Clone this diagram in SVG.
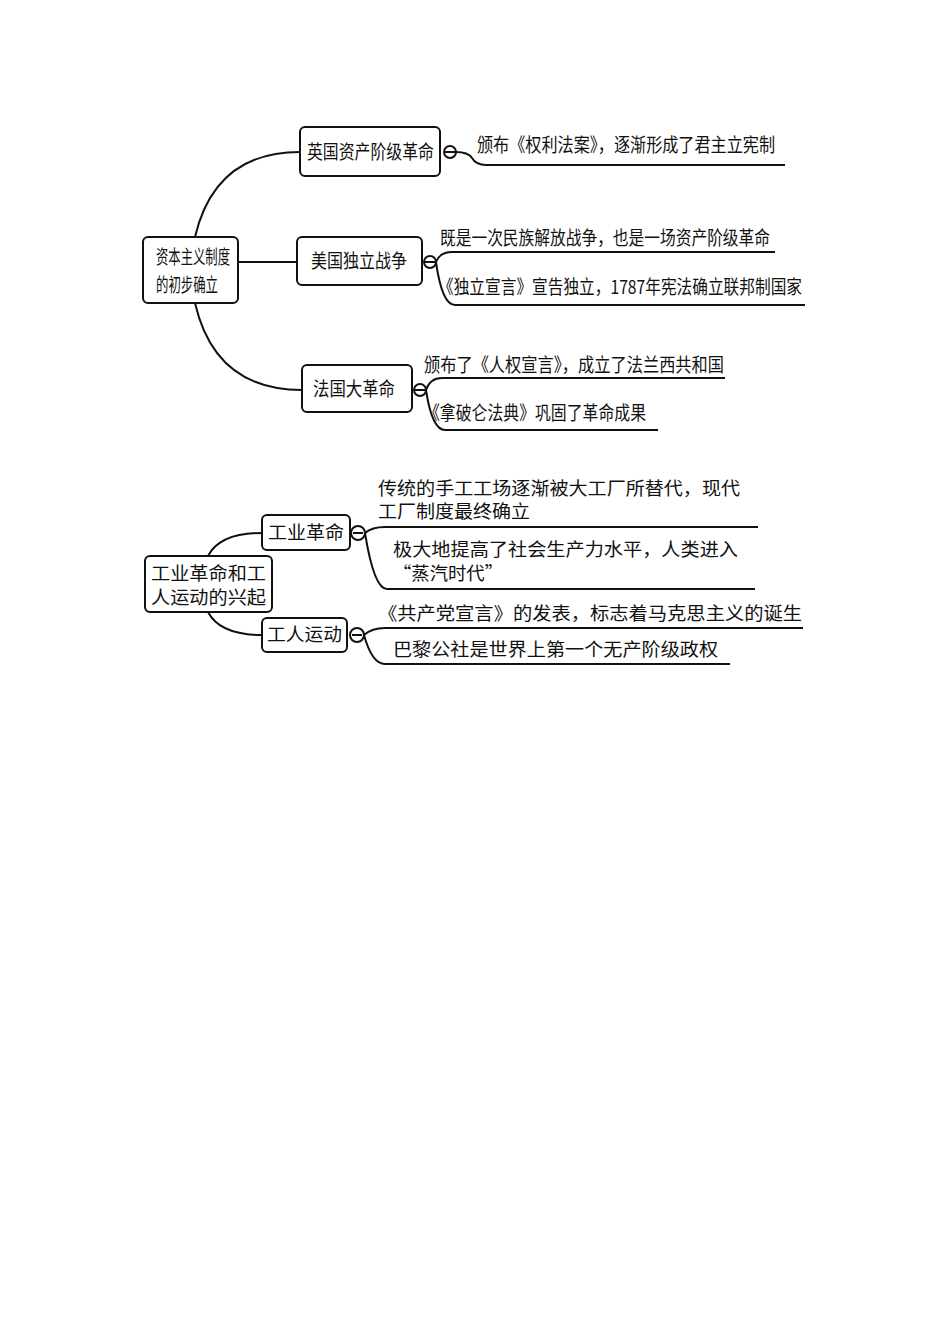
<svg xmlns="http://www.w3.org/2000/svg" width="950" height="1344" viewBox="0 0 950 1344">
<style>
text{font-family:"Noto Sans CJK SC","Noto Sans",sans-serif;fill:#111}
.a{font-size:19px}
.b{font-size:18px}
.box{fill:#fff;stroke:#111;stroke-width:2}
.c{fill:none;stroke:#111;stroke-width:2}
</style>
<rect width="950" height="1344" fill="#fff"/>
<g id="connectors">
<path class="c" d="M195 237 Q215 152 300 152"/>
<path class="c" d="M238 262 H297"/>
<path class="c" d="M195 303 Q215 390 302 390"/>
<path class="c" d="M456 152 Q468 152 472 158 Q476 165 486 165 H785"/>
<path class="c" d="M436 262 Q440 252 452 252 H775"/>
<path class="c" d="M436 262 Q442 305 455 305 H805"/>
<path class="c" d="M426 390 Q430 378 442 378 H725"/>
<path class="c" d="M426 390 Q432 430 445 430 H658"/>
<path class="c" d="M208 556 Q220 533 262 533"/>
<path class="c" d="M208 612 Q220 635 262 635"/>
<path class="c" d="M365 533 Q372 527 385 527 H758"/>
<path class="c" d="M365 533 Q374 589 387 589 H755"/>
<path class="c" d="M364 635 Q372 628 385 628 H803"/>
<path class="c" d="M364 635 Q372 664 385 664 H730"/>
<circle class="c" cx="450" cy="152" r="6"/><path class="c" d="M444 152H456"/>
<circle class="c" cx="430" cy="262" r="6"/><path class="c" d="M424 262H436"/>
<circle class="c" cx="420" cy="390" r="6"/><path class="c" d="M414 390H426"/>
<circle class="c" cx="358" cy="533" r="7"/><path class="c" d="M353 533H363"/>
<circle class="c" cx="357" cy="635" r="7"/><path class="c" d="M352 635H362"/>
</g>
<g id="root1"><rect class="box" x="143" y="237" width="95" height="66" rx="5"/>
<text class="a" x="156" y="264" textLength="74" lengthAdjust="spacingAndGlyphs">资本主义制度</text>
<text class="a" x="156" y="292" textLength="62" lengthAdjust="spacingAndGlyphs">的初步确立</text></g>
<g id="nA"><rect class="box" x="300" y="127" width="140" height="49" rx="5"/>
<text class="a" x="307" y="159" textLength="127" lengthAdjust="spacingAndGlyphs">英国资产阶级革命</text></g>
<g id="nB"><rect class="box" x="297" y="237" width="125" height="48" rx="5"/>
<text class="a" x="311" y="268" textLength="96" lengthAdjust="spacingAndGlyphs">美国独立战争</text></g>
<g id="nC"><rect class="box" x="302" y="365" width="110" height="47" rx="5"/>
<text class="a" x="313" y="396" textLength="82" lengthAdjust="spacingAndGlyphs">法国大革命</text></g>
<g id="tA"><text class="a" x="477" y="152" textLength="298" lengthAdjust="spacingAndGlyphs">颁布《权利法案》，逐渐形成了君主立宪制</text></g>
<g id="tB1"><text class="a" x="440" y="245" textLength="330" lengthAdjust="spacingAndGlyphs">既是一次民族解放战争，也是一场资产阶级革命</text></g>
<g id="tB2"><text class="a" x="438" y="294" textLength="364" lengthAdjust="spacingAndGlyphs">《独立宣言》宣告独立，1787年宪法确立联邦制国家</text></g>
<g id="tC1"><text class="a" x="424" y="372" textLength="300" lengthAdjust="spacingAndGlyphs">颁布了《人权宣言》，成立了法兰西共和国</text></g>
<g id="tC2"><text class="a" x="424" y="420" textLength="222" lengthAdjust="spacingAndGlyphs">《拿破仑法典》巩固了革命成果</text></g>
<g id="root2"><rect class="box" x="145" y="556" width="127" height="56" rx="5"/>
<text class="b" x="151" y="580" textLength="115" lengthAdjust="spacingAndGlyphs">工业革命和工</text>
<text class="b" x="151" y="604" textLength="115" lengthAdjust="spacingAndGlyphs">人运动的兴起</text></g>
<g id="nD"><rect class="box" x="262" y="515" width="88" height="35" rx="5"/>
<text class="b" x="268" y="539" textLength="76" lengthAdjust="spacingAndGlyphs">工业革命</text></g>
<g id="nE"><rect class="box" x="262" y="618" width="85" height="34" rx="5"/>
<text class="b" x="267" y="641" textLength="75" lengthAdjust="spacingAndGlyphs">工人运动</text></g>
<g id="tD1"><text class="b" x="378" y="495" textLength="362" lengthAdjust="spacingAndGlyphs">传统的手工工场逐渐被大工厂所替代，现代</text>
<text class="b" x="378" y="518" textLength="152" lengthAdjust="spacingAndGlyphs">工厂制度最终确立</text></g>
<g id="tD2"><text class="b" x="393" y="556" textLength="345" lengthAdjust="spacingAndGlyphs">极大地提高了社会生产力水平，人类进入</text>
<text class="b" x="393" y="580" textLength="110" lengthAdjust="spacingAndGlyphs">“蒸汽时代”</text></g>
<g id="tE1"><text class="b" x="378" y="620" textLength="424" lengthAdjust="spacingAndGlyphs">《共产党宣言》的发表，标志着马克思主义的诞生</text></g>
<g id="tE2"><text class="b" x="393" y="656" textLength="325" lengthAdjust="spacingAndGlyphs">巴黎公社是世界上第一个无产阶级政权</text></g>
</svg>
